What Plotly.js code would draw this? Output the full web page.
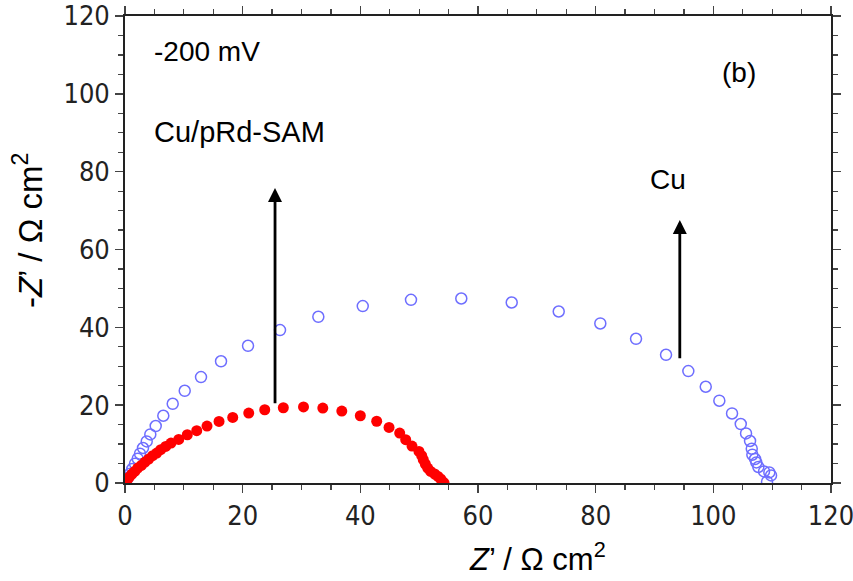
<!DOCTYPE html>
<html>
<head>
<meta charset="utf-8">
<script src="https://cdn.plot.ly/plotly-3.0.1.min.js"></script>
<style>html,body{margin:0;padding:0;background:#fff;}#chart{width:853px;height:581px;}</style>
</head>
<body>
<div id="chart"></div>
<script>
// Cu/pRd-SAM (filled red)
const samX = [0.05,0.39,0.73,1.19,1.65,2.16,2.77,3.40,4.03,4.71,5.39,6.07,6.92,7.82,9.13,10.59,12.19,13.94,15.98,18.31,21.03,23.75,26.91,30.34,33.62,36.85,40.00,42.78,44.88,46.69,47.71,48.78,49.97,50.43,50.70,51.04,51.45,51.96,52.64,53.20,53.66,54.00,54.23];
const samY = [0.15,0.85,1.54,2.31,2.98,3.85,4.52,5.39,6.16,7.01,7.70,8.55,9.40,10.27,11.20,12.40,13.43,14.64,15.82,16.85,17.98,18.82,19.34,19.54,19.26,18.49,17.28,15.87,14.28,12.84,11.12,9.50,8.12,7.01,5.98,4.88,3.85,2.98,2.31,1.69,1.03,0.33,0.0];
// Cu (open blue)
const cuX = [0.12,0.46,0.85,1.24,1.70,2.16,2.55,3.06,3.69,4.30,5.22,6.51,8.11,10.15,12.92,16.32,20.91,26.35,32.86,40.41,48.61,57.16,65.73,73.72,80.79,86.86,91.96,95.75,98.71,101.02,103.18,104.66,105.56,106.24,106.53,106.63,107.09,107.31,107.65,108.62,109.52,109.81,109.13];
const cuY = [0.15,1.28,2.39,3.60,4.96,6.24,7.52,8.99,10.68,12.48,14.64,17.28,20.36,23.70,27.22,31.28,35.26,39.29,42.71,45.45,47.07,47.41,46.38,44.07,40.99,37.06,32.95,28.76,24.73,21.14,17.87,15.15,12.74,10.79,8.81,7.27,6.16,5.29,4.11,2.98,2.72,1.95,0.33];
// Labels
const labelTexts = ["-200 mV", "Cu/pRd-SAM", "(b)", "Cu"];
const labelX = [4.6, 4.6, 104.4, 92.3];
const labelY = [110.8, 90.2, 105.4, 77.9];
// Axis titles
const xTitle = "<i>Z</i>’ / Ω cm<sup>2</sup>";
const yTitle = "-<i>Z</i>’ / Ω cm<sup>2</sup>";
// Arrows: [x, tailY, tipY]
const arrowX = [25.5, 94.3];
const arrowTail = [20.1, 31.7];
const arrowTip = [75.8, 67.6];

const tickFont = {family: "'Liberation Sans Narrow', 'Arial Narrow', 'DejaVu Sans Condensed', sans-serif", size: 27, color: '#222'};
const textFont = {family: "'Liberation Sans', Arial, sans-serif", size: 28, color: '#000'};

const traces = [
  {x: cuX, y: cuY, type: 'scatter', mode: 'markers', name: 'Cu',
   marker: {symbol: 'circle-open', size: 11, color: 'rgb(110,110,255)', line: {width: 1.5, color: 'rgb(110,110,255)'}}},
  {x: samX, y: samY, type: 'scatter', mode: 'markers', name: 'Cu/pRd-SAM',
   marker: {symbol: 'circle', size: 11, color: '#ff0000'}}
];

const annotations = [];
for (let i = 0; i < labelTexts.length; i++) {
  annotations.push({x: labelX[i], y: labelY[i], xref: 'x', yref: 'y', text: labelTexts[i],
    showarrow: false, xanchor: (i < 2 ? 'left' : 'center'), yanchor: 'middle',
    font: Object.assign({}, textFont, {size: i === 1 ? 29 : 28})});
}
for (let i = 0; i < arrowX.length; i++) {
  annotations.push({x: arrowX[i], y: arrowTip[i], ax: arrowX[i], ay: arrowTail[i],
    xref: 'x', yref: 'y', axref: 'x', ayref: 'y', text: '', showarrow: true,
    arrowhead: 2, arrowsize: 1.0, arrowwidth: 2.8, arrowcolor: '#000'});
}
annotations.push({x: 0.584, y: -0.158, xref: 'paper', yref: 'paper', text: xTitle, showarrow: false,
  xanchor: 'center', yanchor: 'middle', font: Object.assign({}, textFont, {size: 31})});
annotations.push({x: -0.137, y: 0.54, xref: 'paper', yref: 'paper', text: yTitle, showarrow: false,
  textangle: -90, xanchor: 'center', yanchor: 'middle', font: Object.assign({}, textFont, {size: 33})});

const axisCommon = {
  showline: true, linecolor: '#222', linewidth: 1.8, mirror: 'ticks',
  ticks: 'outside', ticklen: 8, tickwidth: 1.5, tickcolor: '#444',
  showgrid: false, zeroline: false, tickfont: tickFont, ticklabeloverflow: 'allow',
  minor: {dtick: 5, ticks: 'outside', ticklen: 5, tickwidth: 1.2, tickcolor: '#444', showgrid: false}
};

const layout = {
  width: 853, height: 581,
  margin: {l: 125, r: 22, t: 16, b: 98},
  paper_bgcolor: '#fff', plot_bgcolor: '#fff',
  showlegend: false,
  xaxis: Object.assign({}, axisCommon, {range: [0, 120], dtick: 20, tick0: 0}),
  yaxis: Object.assign({}, axisCommon, {range: [0, 120], dtick: 20, tick0: 0}),
  annotations: annotations
};

Plotly.newPlot('chart', traces, layout, {displayModeBar: false, staticPlot: true});
</script>
</body>
</html>
